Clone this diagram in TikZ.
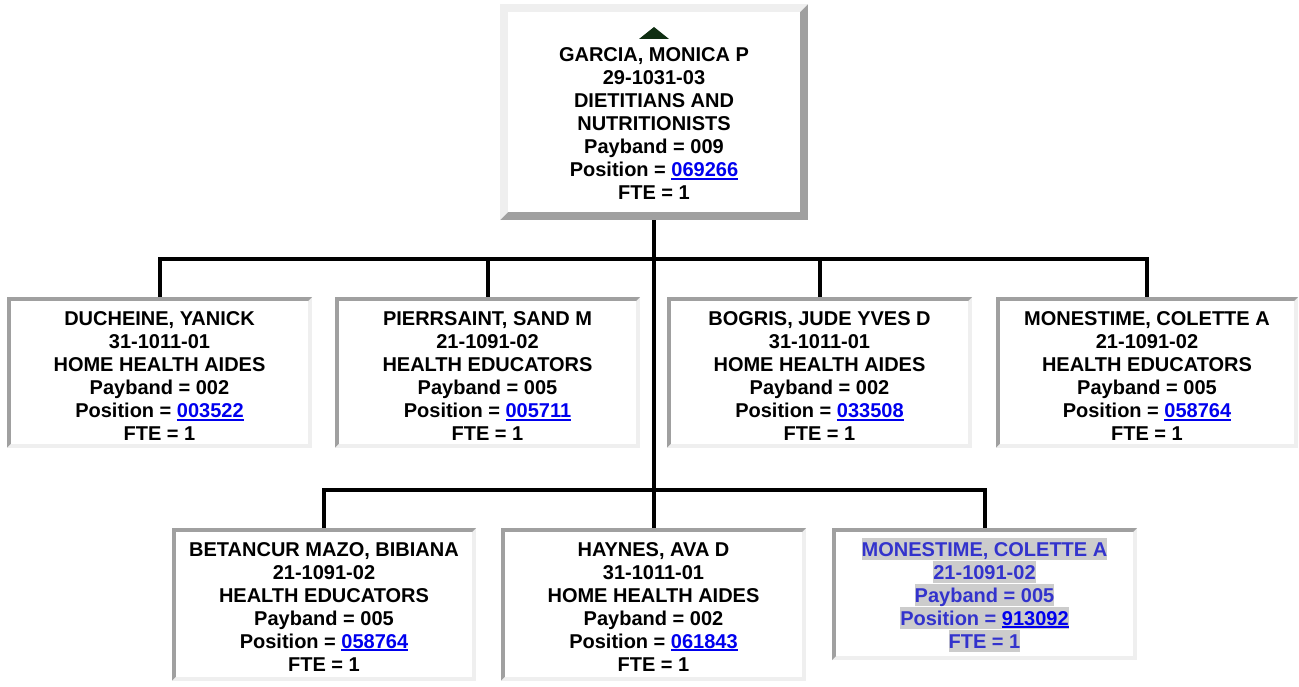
\documentclass[tikz,border=0pt]{standalone}
\usepackage{fontspec}
\setmainfont{Liberation Sans}
\usepackage{xcolor}

\definecolor{bevdark}{HTML}{A0A0A0}
\definecolor{bevlight}{HTML}{EFEFEF}
\definecolor{linkblue}{HTML}{0000EE}
\definecolor{selblue}{HTML}{3333CC}
\definecolor{selgrey}{HTML}{CCCCCC}
\definecolor{arrowgreen}{HTML}{0F2E12}

\newcommand\poslink[1]{\textcolor{linkblue}{\setbox0\hbox{#1}\rlap{\rule[-3pt]{\wd0}{1.8pt}}\box0}}
\newcommand\selline[1]{{\setlength\fboxsep{0pt}\colorbox{selgrey}{\rule[-4pt]{0pt}{22.5pt}#1}}}

\tikzset{
  bevel/.style n args={3}{path picture={
    \fill[#2] (path picture bounding box.south west) rectangle (path picture bounding box.north east);
    \fill[#1] (path picture bounding box.south west) -- (path picture bounding box.north west)
      -- (path picture bounding box.north east) -- ([shift={(-#3,-#3)}]path picture bounding box.north east)
      -- ([shift={(#3,-#3)}]path picture bounding box.north west) -- ([shift={(#3,#3)}]path picture bounding box.south west) -- cycle;
    \fill[white] ([shift={(#3,#3)}]path picture bounding box.south west) rectangle ([shift={(-#3,-#3)}]path picture bounding box.north east);
  }},
  card/.style={anchor=north, inner sep=0pt, align=center,
    font=\bfseries\fontsize{20}{23}\selectfont, minimum width=305pt},
  head/.style={card, bevel={bevlight}{bevdark}{8pt}, minimum width=308pt,
    text height=195.7pt, text depth=20.3pt},
  member/.style={card, bevel={bevdark}{bevlight}{4pt},
    text height=143.6pt, text depth=6.8pt},
  lower/.style={card, bevel={bevdark}{bevlight}{4pt},
    text height=143pt, text depth=9.5pt},
  wire/.style={line width=4pt, black},
}

\begin{document}
\begin{tikzpicture}[x=1pt, y=-1pt]
\fill[white] (0,0) rectangle (1299,687);
\useasboundingbox (0,0) rectangle (1299,687);

% supervisor
\node[head] (garcia) at (654,4) {GARCIA, MONICA P\\29-1031-03\\DIETITIANS AND\\NUTRITIONISTS\\Payband = 009\\Position = \poslink{069266}\\FTE = 1};
\fill[arrowgreen] (639,39) -- (654,27) -- (669,39) -- cycle;

% first row
\node[member] (ducheine) at (159.5,297) {DUCHEINE, YANICK\\31-1011-01\\HOME HEALTH AIDES\\Payband = 002\\Position = \poslink{003522}\\FTE = 1};
\node[member] (pierrsaint) at (487.5,297) {PIERRSAINT, SAND M\\21-1091-02\\HEALTH EDUCATORS\\Payband = 005\\Position = \poslink{005711}\\FTE = 1};
\node[member] (bogris) at (819.5,297) {BOGRIS, JUDE YVES D\\31-1011-01\\HOME HEALTH AIDES\\Payband = 002\\Position = \poslink{033508}\\FTE = 1};
\node[member, minimum width=302pt] (monestimeA) at (1147,297) {MONESTIME, COLETTE A\\21-1091-02\\HEALTH EDUCATORS\\Payband = 005\\Position = \poslink{058764}\\FTE = 1};

% second row
\node[lower, minimum width=304pt] (betancur) at (324,528) {BETANCUR MAZO, BIBIANA\\21-1091-02\\HEALTH EDUCATORS\\Payband = 005\\Position = \poslink{058764}\\FTE = 1};
\node[lower] (haynes) at (653.5,528) {HAYNES, AVA D\\31-1011-01\\HOME HEALTH AIDES\\Payband = 002\\Position = \poslink{061843}\\FTE = 1};
\node[lower, text height=120pt, text depth=12pt, text=selblue] (monestimeB) at (984.5,528) {\selline{MONESTIME, COLETTE A}\\\selline{21-1091-02}\\\selline{Payband = 005}\\\selline{Position = \poslink{913092}}\\\selline{FTE = 1}};

% connectors
\coordinate (bus1) at (654,259);
\coordinate (bus2) at (654,490);
\draw[wire] (garcia.south) -- (bus2);
\draw[wire, line cap=rect] (ducheine.north |- bus1) -- (monestimeA.north |- bus1);
\draw[wire, line cap=rect] (betancur.north |- bus2) -- (monestimeB.north |- bus2);
\foreach \n in {ducheine,pierrsaint,bogris,monestimeA}
  \draw[wire] (\n.north |- bus1) -- (\n.north);
\foreach \n in {betancur,haynes,monestimeB}
  \draw[wire] (\n.north |- bus2) -- (\n.north);
\end{tikzpicture}
\end{document}
